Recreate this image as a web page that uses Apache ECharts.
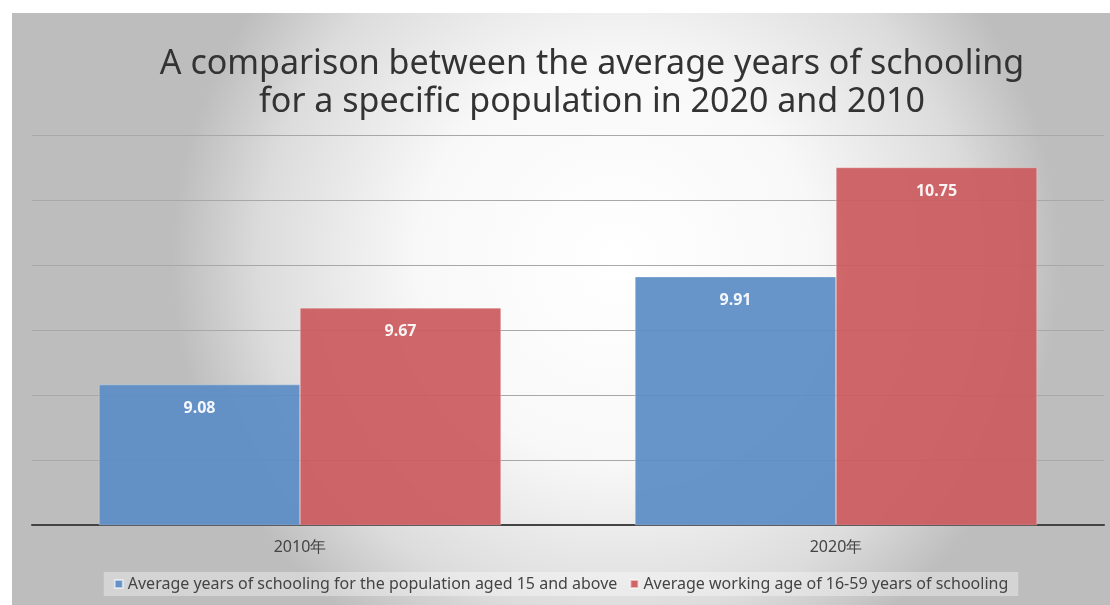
<!DOCTYPE html>
<html>
<head>
<meta charset="utf-8">
<script src="https://cdn.jsdelivr.net/npm/echarts@6/dist/echarts.min.js"></script>
<style>
  html, body { margin: 0; padding: 0; background: #ffffff; }
  #chart { position: absolute; left: 12px; top: 13px; width: 1098px; height: 592px; }
</style>
</head>
<body>
<div id="chart"></div>
<script>
var categories = ['2010年', '2020年']
var seriesNames = [
  'Average years of schooling for the population aged 15 and above',
  'Average working age of 16-59 years of schooling'
]
var schooling15Plus = [9.08, 9.91]
var workingAge = [9.67, 10.75]
var titleText = 'A comparison between the average years of schooling\nfor a specific population in 2020 and 2010'

var chart = echarts.init(document.getElementById('chart'))

chart.setOption({
  backgroundColor: {
    type: 'radial',
    x: 0.55,
    y: 0.42,
    r: 0.75,
    colorStops: [
      { offset: 0, color: '#ffffff' },
      { offset: 0.45, color: '#f8f8f8' },
      { offset: 0.8, color: '#dcdcdc' },
      { offset: 1, color: '#bdbdbd' }
    ]
  },
  title: {
    text: titleText,
    left: 580,
    top: 32,
    padding: 0,
    textAlign: 'center',
    textStyle: {
      fontFamily: 'Noto Sans',
      fontSize: 34,
      fontWeight: 'normal',
      color: '#333333',
      lineHeight: 38
    }
  },
  legend: {
    bottom: 9,
    left: 'center',
    icon: 'rect',
    itemWidth: 8,
    itemHeight: 8,
    itemGap: 12,
    padding: [4, 10],
    backgroundColor: 'rgba(255,255,255,0.35)',
    data: seriesNames,
    textStyle: {
      fontFamily: 'Noto Sans',
      fontSize: 16,
      color: '#444444'
    }
  },
  grid: {
    left: 20,
    right: 6,
    top: 122,
    bottom: 80,
    containLabel: false
  },
  xAxis: {
    type: 'category',
    data: categories,
    axisLine: {
      lineStyle: { color: '#444444', width: 2 }
    },
    axisTick: { show: false },
    axisLabel: {
      margin: 14,
      fontFamily: 'Noto Sans',
      fontSize: 16,
      color: '#444444'
    }
  },
  yAxis: {
    type: 'value',
    min: 8,
    max: 11,
    interval: 0.5,
    axisLine: { show: false },
    axisTick: { show: false },
    axisLabel: { show: false },
    splitLine: {
      lineStyle: { color: '#a8a8a8', width: 1 }
    }
  },
  series: [{
    name: seriesNames[0],
    type: 'bar',
    data: schooling15Plus,
    barGap: '0%',
    barCategoryGap: '25%',
    itemStyle: {
      color: '#5d8dc5',
      opacity: 0.93,
      borderColor: 'rgba(255,255,255,0.6)',
      borderWidth: 0.5
    },
    label: {
      show: true,
      position: 'insideTop',
      distance: 16,
      color: '#ffffff',
      fontFamily: 'Noto Sans',
      fontSize: 16,
      fontWeight: 'bold'
    }
  }, {
    name: seriesNames[1],
    type: 'bar',
    data: workingAge,
    itemStyle: {
      color: '#cb5a5e',
      opacity: 0.93,
      borderColor: 'rgba(255,255,255,0.6)',
      borderWidth: 0.5
    },
    label: {
      show: true,
      position: 'insideTop',
      distance: 16,
      color: '#ffffff',
      fontFamily: 'Noto Sans',
      fontSize: 16,
      fontWeight: 'bold'
    }
  }]
})
</script>
</body>
</html>
